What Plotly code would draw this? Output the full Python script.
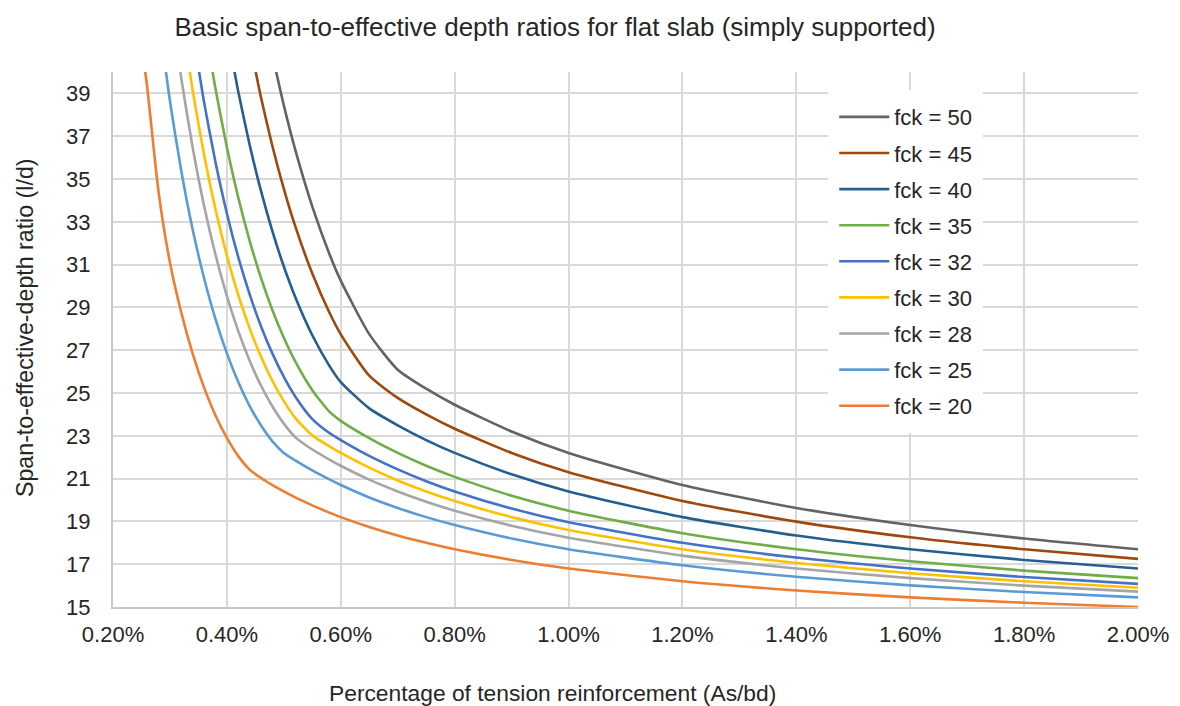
import plotly.graph_objects as go

# Percentage of tension reinforcement (As/bd), in %
rho_pct = [0.24, 0.26, 0.28, 0.30, 0.32, 0.34, 0.36, 0.38, 0.40, 0.42, 0.44, 0.46,
           0.48, 0.50, 0.52, 0.55, 0.58, 0.60, 0.65, 0.70, 0.75, 0.80, 0.90, 1.00,
           1.20, 1.40, 1.60, 1.80, 2.00]
N = None

fck_20 = [43.5, 39.3, 34.4, 31.1, 28.75, 26.83, 25.25, 23.95, 22.9, 22.05, 21.42, 21.03,
          20.7, 20.4, 20.12, 19.75, 19.41, 19.2, 18.74, 18.34, 18.0, 17.7, 17.2, 16.8,
          16.2, 15.77, 15.45, 15.2, 15.0]
fck_25 = [N, N, 42.64, 38.65, 35.36, 32.63, 30.36, 28.45, 26.85, 25.51, 24.39, 23.48,
          22.74, 22.2, 21.85, 21.38, 20.96, 20.7, 20.12, 19.63, 19.2, 18.83, 18.2, 17.7,
          16.95, 16.41, 16.01, 15.7, 15.45]
fck_28 = [N, N, N, 43.57, 39.69, 36.46, 33.74, 31.46, 29.53, 27.89, 26.51, 25.34,
          24.37, 23.57, 22.94, 22.36, 21.89, 21.6, 20.95, 20.4, 19.92, 19.5, 18.8, 18.24,
          17.4, 16.8, 16.35, 16.0, 15.72]
fck_30 = [N, N, N, N, 42.7, 39.13, 36.12, 33.58, 31.42, 29.58, 28.02, 26.69,
          25.56, 24.62, 23.84, 23.02, 22.51, 22.2, 21.51, 20.91, 20.4, 19.95, 19.2, 18.6,
          17.7, 17.06, 16.58, 16.2, 15.9]
fck_32 = [N, N, N, N, N, 41.89, 38.58, 35.78, 33.39, 31.35, 29.61, 28.11,
          26.84, 25.75, 24.84, 23.78, 23.13, 22.8, 22.06, 21.43, 20.88, 20.4, 19.6, 18.96,
          18.0, 17.31, 16.8, 16.4, 16.08]
fck_35 = [N, N, N, N, N, N, 42.42, 39.22, 36.48, 34.13, 32.11, 30.37,
          28.87, 27.58, 26.48, 25.13, 24.13, 23.7, 22.89, 22.2, 21.6, 21.08, 20.2, 19.5,
          18.45, 17.7, 17.14, 16.7, 16.35]
fck_40 = [N, N, N, N, N, N, N, N, 41.96, 39.08, 36.59, 34.43,
          32.55, 30.91, 29.49, 27.7, 26.27, 25.51, 24.28, 23.49, 22.8, 22.2, 21.2, 20.4,
          19.2, 18.34, 17.7, 17.2, 16.8]
fck_45 = [N, N, N, N, N, N, N, N, N, N, 41.4, 38.8,
          36.53, 34.54, 32.8, 30.58, 28.76, 27.74, 25.81, 24.77, 24.0, 23.33, 22.2, 21.3,
          19.95, 18.99, 18.26, 17.7, 17.25]
fck_50 = [N, N, N, N, N, N, N, N, N, N, N, N,
          40.79, 38.44, 36.37, 33.71, 31.5, 30.25, 27.75, 26.09, 25.2, 24.45, 23.2, 22.2,
          20.7, 19.63, 18.83, 18.2, 17.7]

series_names = ["fck = 50", "fck = 45", "fck = 40", "fck = 35", "fck = 32",
                "fck = 30", "fck = 28", "fck = 25", "fck = 20"]
series_values = [fck_50, fck_45, fck_40, fck_35, fck_32, fck_30, fck_28, fck_25, fck_20]
series_colors = ["#636363", "#9E480E", "#255E91", "#70AD47", "#4472C4",
                 "#FFC000", "#A5A5A5", "#5B9BD5", "#ED7D31"]

x_ticks = [0.2, 0.4, 0.6, 0.8, 1.0, 1.2, 1.4, 1.6, 1.8, 2.0]
x_ticklabels = ["0.20%", "0.40%", "0.60%", "0.80%", "1.00%", "1.20%", "1.40%",
                "1.60%", "1.80%", "2.00%"]
y_ticks = [15, 17, 19, 21, 23, 25, 27, 29, 31, 33, 35, 37, 39]

FONT = "Liberation Sans, Arial, sans-serif"
TXT = "#262626"

fig = go.Figure()
for name, vals, col in zip(series_names, series_values, series_colors):
    fig.add_trace(go.Scatter(
        x=rho_pct, y=vals, name=name, mode="lines", legendgroup=name,
        line=dict(color=col, width=2.6, shape="spline", smoothing=0.6),
        connectgaps=False,
    ))

fig.update_layout(
    width=1180, height=706,
    margin=dict(l=113, r=42, t=72, b=99),
    paper_bgcolor="white", plot_bgcolor="white",
    font=dict(family=FONT, size=22, color=TXT),
    title=dict(text="Basic span-to-effective depth ratios for flat slab (simply supported)",
               x=555 / 1180, xanchor="center", xref="container",
               y=1 - 27 / 706, yanchor="middle", yref="container",
               font=dict(family=FONT, size=26, color=TXT)),
    showlegend=True,
    legend=dict(x=0.6978, y=0.9662, xanchor="left", yanchor="top",
                bgcolor="white", bordercolor="white", borderwidth=6,
                traceorder="grouped", tracegroupgap=4.5, itemwidth=50,
                font=dict(family=FONT, size=22, color=TXT)),
    annotations=[
        dict(text="Percentage of tension reinforcement (As/bd)", xref="paper", yref="paper",
             x=(552 - 113) / 1025, y=-(693 - 607) / 535, xanchor="center", yanchor="middle",
             showarrow=False, font=dict(family=FONT, size=22.8, color=TXT)),
        dict(text="Span-to-effective-depth ratio (l/d)", xref="paper", yref="paper",
             x=(25 - 113) / 1025, y=(607 - 328) / 535, xanchor="center", yanchor="middle",
             textangle=-90, showarrow=False, font=dict(family=FONT, size=23.2, color=TXT)),
    ],
)

fig.update_xaxes(range=[0.2, 2.0], tickvals=x_ticks, ticktext=x_ticklabels,
                 showgrid=True, gridcolor="#d9d9d9", gridwidth=2,
                 showline=True, linecolor="#c8c8c8", linewidth=2,
                 ticks="", ticklabelstandoff=7, zeroline=False,
                 tickfont=dict(size=22, color=TXT))
fig.update_yaxes(range=[15, 40], tickvals=y_ticks,
                 showgrid=True, gridcolor="#d9d9d9", gridwidth=2,
                 showline=True, linecolor="#c8c8c8", linewidth=2,
                 ticks="", ticklabelstandoff=16, zeroline=False,
                 tickfont=dict(size=22, color=TXT))

fig.write_html("out.html", config={"displayModeBar": False},
               post_script="document.body.style.margin='0';")
